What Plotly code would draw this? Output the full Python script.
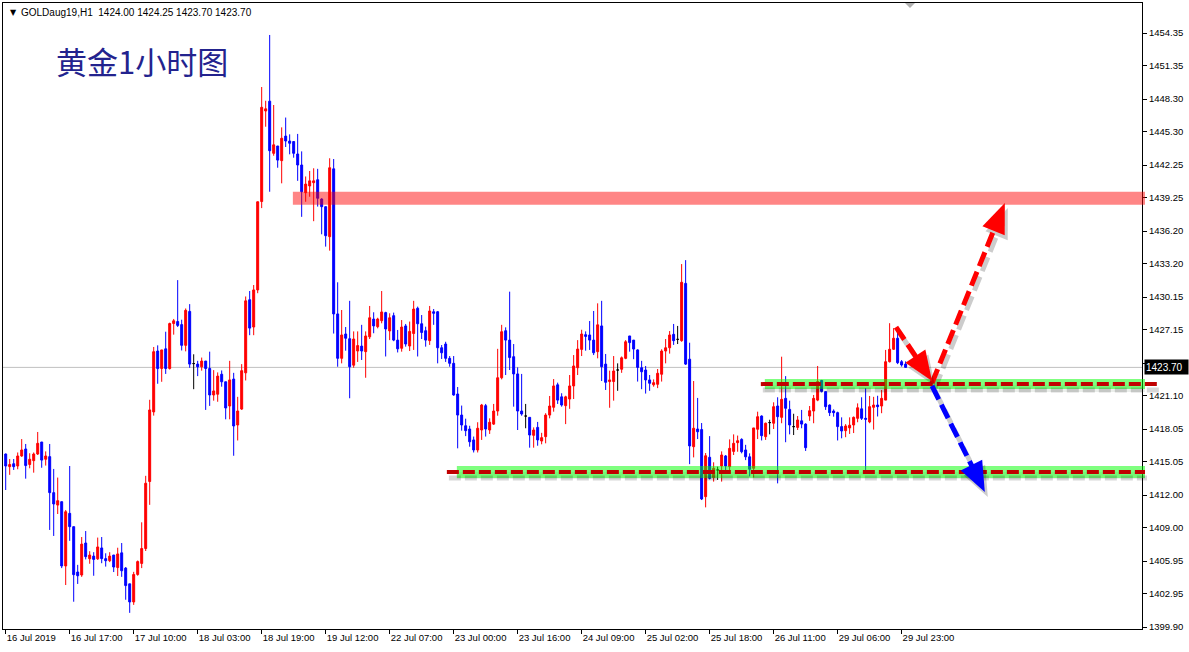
import plotly.graph_objects as go

# ---------------------------------------------------------------
# GOLDaug19, H1 candles (bar 0 = 16 Jul 2019 00:00)
# ---------------------------------------------------------------
opens = [
    1415.76, 1414.60, 1414.87, 1414.66, 1415.58, 1416.22, 1414.80, 1415.15, 1415.76, 1416.86,
    1415.28, 1415.52, 1412.22, 1411.08, 1411.39, 1405.50, 1410.32, 1409.10, 1404.94, 1404.67,
    1407.60, 1406.16, 1406.40, 1406.15, 1407.15, 1406.17, 1405.98, 1406.50, 1405.35, 1406.70,
    1405.30, 1403.86, 1402.20, 1404.72, 1405.73, 1407.10, 1413.24, 1419.62, 1425.20, 1423.60,
    1425.40, 1423.60, 1427.72, 1427.90, 1427.62, 1425.72, 1428.83, 1424.05, 1424.00, 1423.75,
    1424.28, 1423.60, 1421.17, 1421.24, 1423.07, 1422.38, 1420.16, 1422.63, 1418.42, 1419.88,
    1423.20, 1429.90, 1427.40, 1430.80, 1438.90, 1447.20, 1448.10, 1443.32, 1443.99, 1442.65,
    1444.90, 1444.45, 1444.40, 1443.26, 1442.25, 1439.71, 1440.33, 1440.63, 1440.90, 1439.13,
    1438.43, 1435.68, 1441.90, 1428.60, 1424.53, 1426.76, 1426.33, 1423.90, 1425.20, 1425.65,
    1425.14, 1426.50, 1428.13, 1427.43, 1427.98, 1428.72, 1427.04, 1428.44, 1426.20, 1425.45,
    1427.50, 1425.66, 1426.80, 1429.12, 1427.70, 1427.06, 1426.15, 1428.80, 1428.80, 1425.50,
    1425.84, 1424.53, 1424.07, 1421.26, 1419.33, 1418.35, 1418.05, 1417.05, 1416.13, 1417.96,
    1420.19, 1417.96, 1418.50, 1419.70, 1422.75, 1427.06, 1426.20, 1424.68, 1423.10, 1419.70,
    1419.24, 1419.12, 1417.47, 1418.20, 1416.95, 1417.35, 1419.33, 1420.04, 1422.10, 1421.00,
    1420.19, 1420.80, 1422.00, 1423.67, 1425.35, 1426.70, 1426.67, 1426.20, 1425.14, 1427.50,
    1424.00, 1422.40, 1422.40, 1423.46, 1423.53, 1424.53, 1426.58, 1426.20, 1425.30, 1423.67,
    1423.46, 1422.55, 1422.10, 1422.15, 1423.07, 1425.20, 1425.50, 1426.73, 1426.27, 1426.15,
    1431.40, 1424.45, 1416.43, 1418.05, 1418.00, 1411.85, 1415.46, 1413.60, 1414.30, 1414.66,
    1415.58, 1414.60, 1416.00, 1416.80, 1417.10, 1416.13, 1415.50, 1414.45, 1418.03, 1419.24,
    1417.35, 1418.64, 1418.58, 1420.16, 1419.12, 1420.86, 1419.85, 1418.27, 1418.20, 1418.80,
    1418.50, 1419.24, 1419.70, 1420.70, 1422.50, 1421.48, 1420.25, 1419.70, 1419.55, 1418.27,
    1417.90, 1418.15, 1418.42, 1419.03, 1419.90, 1419.03, 1418.70, 1420.04, 1420.25, 1420.16,
    1420.70, 1424.22, 1425.36, 1426.37, 1424.22, 1424.00,
]
highs = [
    1415.80, 1415.30, 1415.30, 1415.90, 1417.13, 1416.68, 1415.83, 1415.90, 1417.78, 1416.86,
    1416.00, 1416.68, 1414.39, 1413.60, 1411.39, 1410.63, 1414.66, 1409.10, 1405.60, 1408.15,
    1408.70, 1406.85, 1406.76, 1408.10, 1408.15, 1406.66, 1406.76, 1406.50, 1407.17, 1407.60,
    1405.40, 1403.86, 1404.96, 1406.00, 1409.50, 1413.76, 1420.73, 1425.57, 1425.72, 1425.30,
    1426.97, 1427.80, 1428.14, 1431.70, 1428.07, 1429.10, 1429.50, 1424.90, 1424.30, 1424.60,
    1424.28, 1425.14, 1423.45, 1423.24, 1423.42, 1422.38, 1424.30, 1423.20, 1421.00, 1424.00,
    1430.20, 1430.70, 1431.25, 1438.90, 1449.40, 1448.14, 1454.17, 1447.75, 1444.00, 1445.70,
    1446.60, 1445.06, 1444.40, 1445.10, 1443.50, 1441.20, 1441.70, 1441.95, 1441.90, 1439.20,
    1438.43, 1442.87, 1442.80, 1431.50, 1428.96, 1427.40, 1429.80, 1427.00, 1427.00, 1427.60,
    1427.00, 1429.33, 1428.75, 1428.25, 1430.70, 1428.80, 1428.66, 1428.72, 1427.13, 1428.04,
    1427.68, 1427.90, 1429.80, 1429.27, 1428.50, 1427.43, 1429.33, 1429.05, 1428.87, 1425.75,
    1426.05, 1424.74, 1424.74, 1421.90, 1420.20, 1419.00, 1418.35, 1417.36, 1418.67, 1420.35,
    1420.35, 1419.03, 1420.35, 1425.40, 1427.60, 1427.37, 1430.64, 1425.84, 1423.70, 1423.10,
    1420.35, 1419.12, 1418.20, 1418.70, 1417.70, 1419.50, 1421.08, 1422.63, 1422.30, 1421.33,
    1421.10, 1423.00, 1424.83, 1426.20, 1427.15, 1427.00, 1427.95, 1428.87, 1429.57, 1429.80,
    1424.93, 1423.40, 1424.74, 1424.07, 1424.70, 1426.20, 1426.58, 1426.20, 1425.36, 1424.30,
    1423.83, 1423.00, 1422.60, 1423.55, 1425.36, 1426.30, 1427.03, 1427.68, 1427.50, 1433.17,
    1433.53, 1425.96, 1422.45, 1420.90, 1418.60, 1415.85, 1417.40, 1415.00, 1414.60, 1416.00,
    1415.67, 1417.10, 1417.56, 1417.45, 1417.20, 1416.60, 1415.82, 1418.15, 1419.64, 1419.30,
    1418.64, 1418.90, 1420.50, 1420.96, 1424.68, 1422.90, 1420.65, 1419.45, 1419.24, 1419.80,
    1418.58, 1420.16, 1421.17, 1423.83, 1422.55, 1421.48, 1420.30, 1419.85, 1419.64, 1419.12,
    1418.50, 1419.12, 1419.20, 1420.40, 1420.96, 1421.80, 1421.08, 1421.00, 1421.10, 1421.63,
    1425.30, 1427.75, 1427.30, 1426.97, 1424.37, 1424.25,
]
lows = [
    1412.46, 1413.85, 1414.30, 1414.36, 1415.50, 1413.50, 1414.45, 1414.05, 1415.67, 1414.50,
    1414.70, 1408.80, 1408.25, 1410.26, 1405.30, 1403.75, 1407.80, 1402.22, 1403.85, 1404.50,
    1406.10, 1405.70, 1404.60, 1406.05, 1405.75, 1405.44, 1405.85, 1404.94, 1404.58, 1404.50,
    1402.40, 1401.20, 1401.93, 1404.60, 1405.30, 1406.87, 1411.10, 1419.28, 1422.20, 1422.38,
    1423.10, 1423.50, 1426.70, 1427.40, 1425.25, 1425.17, 1423.66, 1421.70, 1422.90, 1423.40,
    1419.80, 1420.17, 1420.65, 1420.55, 1421.93, 1418.94, 1418.94, 1415.60, 1417.00, 1419.80,
    1422.50, 1426.65, 1426.65, 1430.50, 1438.30, 1445.76, 1439.80, 1443.10, 1442.00, 1440.57,
    1443.90, 1443.23, 1442.92, 1440.80, 1437.50, 1438.88, 1439.34, 1437.10, 1438.44, 1435.90,
    1434.77, 1434.40, 1426.80, 1423.76, 1424.07, 1425.23, 1420.87, 1423.67, 1424.20, 1424.38,
    1422.75, 1426.30, 1426.83, 1427.28, 1427.74, 1424.70, 1426.20, 1426.10, 1425.07, 1425.14,
    1425.60, 1425.20, 1425.30, 1424.70, 1426.30, 1425.60, 1425.76, 1427.60, 1424.07, 1424.47,
    1424.20, 1423.76, 1421.10, 1416.28, 1417.90, 1417.40, 1416.43, 1415.90, 1415.90, 1417.05,
    1417.36, 1417.60, 1418.42, 1419.27, 1422.60, 1423.00, 1423.46, 1420.10, 1417.96, 1419.27,
    1418.12, 1416.34, 1416.34, 1416.52, 1416.65, 1416.74, 1419.03, 1419.64, 1420.35, 1420.10,
    1418.50, 1419.90, 1420.80, 1423.00, 1424.74, 1425.23, 1425.30, 1424.83, 1424.53, 1422.45,
    1421.63, 1420.00, 1420.65, 1421.55, 1423.20, 1424.45, 1425.14, 1424.45, 1422.40, 1421.70,
    1421.30, 1421.55, 1421.93, 1421.80, 1422.40, 1424.07, 1424.96, 1425.76, 1425.84, 1426.05,
    1423.92, 1414.83, 1415.45, 1417.13, 1411.54, 1410.87, 1413.43, 1413.23, 1413.38, 1413.23,
    1414.20, 1414.00, 1415.67, 1415.97, 1415.82, 1415.20, 1413.70, 1413.60, 1417.13, 1417.00,
    1417.05, 1417.56, 1418.05, 1413.07, 1418.58, 1416.84, 1417.56, 1417.50, 1417.96, 1418.12,
    1416.04, 1418.80, 1418.58, 1420.60, 1421.40, 1419.80, 1419.24, 1419.18, 1417.00, 1417.20,
    1417.30, 1417.60, 1417.68, 1418.67, 1418.88, 1414.30, 1418.58, 1418.00, 1419.20, 1419.50,
    1420.70, 1424.15, 1425.30, 1424.00, 1423.77, 1423.70,
]
closes = [
    1414.66, 1414.80, 1414.60, 1415.58, 1416.13, 1414.70, 1415.28, 1415.76, 1416.74, 1415.20,
    1415.58, 1412.22, 1411.18, 1411.48, 1405.50, 1410.47, 1409.10, 1404.70, 1404.60, 1407.50,
    1406.35, 1406.50, 1406.10, 1407.24, 1406.17, 1405.98, 1406.40, 1405.40, 1406.60, 1405.06,
    1403.70, 1402.20, 1404.72, 1405.90, 1407.10, 1413.08, 1419.80, 1425.14, 1423.59, 1425.30,
    1423.60, 1427.72, 1427.97, 1427.55, 1425.72, 1428.93, 1424.00, 1424.05, 1423.75, 1424.28,
    1423.60, 1421.17, 1421.54, 1422.90, 1422.38, 1419.98, 1422.55, 1418.33, 1419.70, 1423.40,
    1429.80, 1427.30, 1430.80, 1438.88, 1447.54, 1447.40, 1443.56, 1444.10, 1442.70, 1444.70,
    1444.45, 1444.24, 1443.32, 1442.25, 1439.80, 1440.50, 1440.80, 1440.80, 1439.20, 1438.43,
    1435.77, 1442.00, 1428.60, 1424.53, 1426.67, 1426.37, 1423.76, 1426.30, 1425.70, 1425.20,
    1426.58, 1428.25, 1427.50, 1428.13, 1428.78, 1427.22, 1428.25, 1426.20, 1425.40, 1427.40,
    1425.84, 1427.00, 1429.05, 1427.70, 1426.90, 1426.20, 1428.87, 1428.66, 1425.50, 1425.04,
    1424.53, 1424.07, 1421.17, 1419.33, 1418.42, 1417.90, 1416.88, 1416.13, 1418.12, 1420.25,
    1418.05, 1418.67, 1419.70, 1422.75, 1426.97, 1426.20, 1424.60, 1423.10, 1419.70, 1419.43,
    1419.24, 1417.50, 1417.96, 1417.05, 1417.26, 1419.33, 1420.16, 1422.00, 1420.70, 1420.25,
    1421.00, 1422.00, 1423.83, 1425.38, 1426.76, 1426.54, 1426.20, 1425.04, 1427.60, 1423.76,
    1422.33, 1422.55, 1423.37, 1423.46, 1424.58, 1426.05, 1425.97, 1425.38, 1423.70, 1423.30,
    1422.55, 1422.24, 1422.30, 1423.16, 1425.20, 1425.50, 1426.67, 1426.15, 1426.27, 1431.50,
    1424.00, 1416.50, 1418.12, 1417.80, 1411.64, 1415.60, 1413.53, 1414.45, 1414.30, 1415.67,
    1414.66, 1416.28, 1416.74, 1416.98, 1415.97, 1415.50, 1414.36, 1418.15, 1419.18, 1417.44,
    1418.58, 1418.64, 1420.10, 1419.18, 1420.77, 1419.95, 1418.42, 1418.27, 1418.88, 1418.50,
    1416.34, 1419.73, 1420.86, 1422.40, 1421.50, 1420.10, 1419.55, 1419.55, 1418.27, 1417.87,
    1418.33, 1418.40, 1419.12, 1420.00, 1419.03, 1418.95, 1420.10, 1420.25, 1420.10, 1420.86,
    1424.22, 1425.36, 1426.37, 1424.13, 1423.92, 1423.70,
]

tick_bars = [0, 16, 32, 48, 64, 80, 96, 112, 128, 144, 160, 176, 192, 208, 224]
tick_labels = ["16 Jul 2019", "16 Jul 17:00", "17 Jul 10:00", "18 Jul 03:00", "18 Jul 19:00",
               "19 Jul 12:00", "22 Jul 07:00", "23 Jul 00:00", "23 Jul 16:00", "24 Jul 09:00",
               "25 Jul 02:00", "25 Jul 18:00", "26 Jul 11:00", "29 Jul 06:00", "29 Jul 23:00"]
price_ticks = [1454.35, 1451.35, 1448.30, 1445.30, 1442.25, 1439.25, 1436.20, 1433.20, 1430.15,
               1427.15, 1424.10, 1421.10, 1418.05, 1415.05, 1412.00, 1409.00, 1405.95, 1402.95, 1399.90]

last_price = 1423.70
resist_zone = (1438.60, 1439.80, 71.8)          # low, high, first bar
upper_zone = (1421.71, 1422.63, 189.8)
upper_dash = (1422.17, 188.8)
lower_zone = (1413.56, 1414.66, 112.8)
lower_dash = (1414.11, 110.3)

# arrows: (bar, price) start -> tip
arrow_up = ((231.6, 1422.27), (249.8, 1438.77))
arrow_pull = ((222.6, 1427.40), (231.6, 1422.45))
arrow_down = ((231.6, 1422.00), (244.8, 1412.28))

# ---------------------------------------------------------------
W, H = 1189, 652
ML, MR, MT, MB = 3, 47, 3, 23
PW, PH = W - ML - MR, H - MT - MB
X0, X1 = -0.675, 284.1
Y0, Y1 = 1399.72, 1457.10


def px(bar):
    return ML + (bar - X0) / (X1 - X0) * PW


def py(price):
    return MT + (Y1 - price) / (Y1 - Y0) * PH


def xp(x):
    return (x - ML) / PW


def yp(y):
    return (H - MB - y) / PH


fig = go.Figure()

groups = {
    "up": ([i for i in range(len(opens)) if closes[i] > opens[i]], "#FF0000"),
    "down": ([i for i in range(len(opens)) if closes[i] < opens[i]], "#0000FF"),
    "doji": ([i for i in range(len(opens)) if closes[i] == opens[i]], "#000000"),
}
for name, (idx, col) in groups.items():
    fig.add_trace(go.Candlestick(
        x=idx,
        open=[opens[i] for i in idx], high=[highs[i] for i in idx],
        low=[lows[i] for i in idx], close=[closes[i] for i in idx],
        increasing=dict(line=dict(color=col, width=1), fillcolor=col),
        decreasing=dict(line=dict(color=col, width=1), fillcolor=col),
        whiskerwidth=0, showlegend=False, hoverinfo="skip", name=name,
    ))

shapes = []

# current price line
shapes.append(dict(type="line", xref="paper", yref="y", x0=0, x1=1, y0=last_price, y1=last_price,
                   line=dict(color="#C0C0C0", width=1), layer="below"))

# resistance zone
shapes.append(dict(type="rect", xref="paper", yref="paper",
                   x0=xp(px(resist_zone[2])), x1=xp(1145), y0=yp(py(resist_zone[0])), y1=yp(py(resist_zone[1])),
                   fillcolor="rgba(255,0,0,0.48)", line=dict(width=0), layer="above"))

# support zones with dashed lines and soft shadows
for zone, dash, x_end in ((lower_zone, lower_dash, 1145), (upper_zone, upper_dash, 1158)):
    shapes.append(dict(type="rect", xref="paper", yref="paper",
                       x0=xp(px(zone[2])), x1=xp(1145), y0=yp(py(zone[1]) + 6), y1=yp(py(zone[1]) + 13),
                       fillcolor="rgba(60,90,60,0.10)", line=dict(width=0), layer="above"))
    shapes.append(dict(type="rect", xref="paper", yref="paper",
                       x0=xp(px(zone[2])), x1=xp(1145), y0=yp(py(zone[0])), y1=yp(py(zone[1])),
                       fillcolor="rgba(0,255,0,0.5)", line=dict(width=0), layer="above"))
    yd = py(dash[0])
    shapes.append(dict(type="line", xref="paper", yref="paper",
                       x0=xp(px(dash[1]) + 2), x1=xp(x_end + 2), y0=yp(yd + 6), y1=yp(yd + 6),
                       line=dict(color="rgba(0,0,0,0.16)", width=5, dash="12px,4px"), layer="above"))
    shapes.append(dict(type="line", xref="paper", yref="paper",
                       x0=xp(px(dash[1])), x1=xp(x_end), y0=yp(yd), y1=yp(yd),
                       line=dict(color="#C00000", width=4, dash="12px,4px"), layer="above"))


def arrow(a, color, head_len=30, head_half=12):
    (b0, p0), (b1, p1) = a
    x0, y0, x1, y1 = px(b0), py(p0), px(b1), py(p1)
    L = ((x1 - x0) ** 2 + (y1 - y0) ** 2) ** 0.5
    ux, uy = (x1 - x0) / L, (y1 - y0) / L
    nx, ny = -uy, ux
    bx, by = x1 - head_len * ux, y1 - head_len * uy
    out = []
    for off, col in (((3, 5), "rgba(0,0,0,0.2)"), ((0, 0), color)):
        dx, dy = off
        out.append(dict(type="line", xref="paper", yref="paper",
                        x0=xp(x0 + dx), y0=yp(y0 + dy), x1=xp(bx + 4 * ux + dx), y1=yp(by + 4 * uy + dy),
                        line=dict(color=col, width=5, dash="15px,6px"), layer="above"))
        pts = [(x1 + dx, y1 + dy), (bx + head_half * nx + dx, by + head_half * ny + dy),
               (bx - head_half * nx + dx, by - head_half * ny + dy)]
        path = "M " + " L ".join(f"{xp(a_)},{yp(b_)}" for a_, b_ in pts) + " Z"
        out.append(dict(type="path", xref="paper", yref="paper", path=path,
                        fillcolor=col, line=dict(width=0), layer="above"))
    return out


shapes += arrow(arrow_up, "#FF0000")
shapes += arrow(arrow_pull, "#FF0000")
shapes += arrow(arrow_down, "#0000FF")

# chart shift marker
shapes.append(dict(type="path", xref="paper", yref="paper",
                   path=f"M {xp(905)},{yp(3)} L {xp(915)},{yp(3)} L {xp(910)},{yp(8)} Z",
                   fillcolor="#B0B0B0", line=dict(width=0)))

annotations = [
    dict(text="▼", x=xp(8), y=yp(12), xref="paper", yref="paper", xanchor="left", yanchor="middle",
         showarrow=False, font=dict(family="DejaVu Sans", size=8, color="black")),
    dict(text="GOLDaug19,H1  1424.00 1424.25 1423.70 1423.70", x=xp(19), y=yp(12.5),
         xref="paper", yref="paper", xanchor="left", yanchor="middle", showarrow=False,
         font=dict(family="Liberation Sans", size=10, color="black")),
    dict(text="黄金1小时图", x=xp(54), y=yp(61), xref="paper", yref="paper",
         xanchor="left", yanchor="middle", showarrow=False,
         font=dict(family="Noto Sans CJK SC", size=31, color="#23238E")),
    dict(text="1423.70", x=xp(1144), y=last_price, xref="paper", yref="y",
         xanchor="left", yanchor="middle", showarrow=False, bgcolor="black",
         width=41, height=12, align="left", borderpad=1,
         font=dict(family="Liberation Sans", size=10, color="white")),
]

# the 1424.10 label sits under the live-price box, as on the terminal
tick_text = ["" if v == 1424.10 else f"{v:.2f}" for v in price_ticks]

fig.update_layout(
    width=W, height=H,
    margin=dict(l=ML, r=MR, t=MT, b=MB),
    paper_bgcolor="white", plot_bgcolor="white",
    shapes=shapes, annotations=annotations,
    showlegend=False, hovermode=False,
    xaxis=dict(range=[X0, X1], rangeslider=dict(visible=False), showgrid=False, zeroline=False,
               showline=True, linecolor="black", linewidth=1, mirror=True,
               ticks="outside", ticklen=4, tickcolor="black",
               tickvals=tick_bars, ticktext=tick_labels, ticklabelposition="outside right",
               tickfont=dict(family="Liberation Sans", size=9.5, color="black")),
    yaxis=dict(range=[Y0, Y1], side="right", showgrid=False, zeroline=False,
               showline=True, linecolor="black", linewidth=1, mirror=True,
               ticks="outside", ticklen=4, tickcolor="black",
               tickvals=price_ticks, ticktext=tick_text,
               tickfont=dict(family="Liberation Sans", size=9.5, color="black")),
)

fig.write_html("out.html", config={"displayModeBar": False},
               post_script="document.body.style.margin='0px';")
